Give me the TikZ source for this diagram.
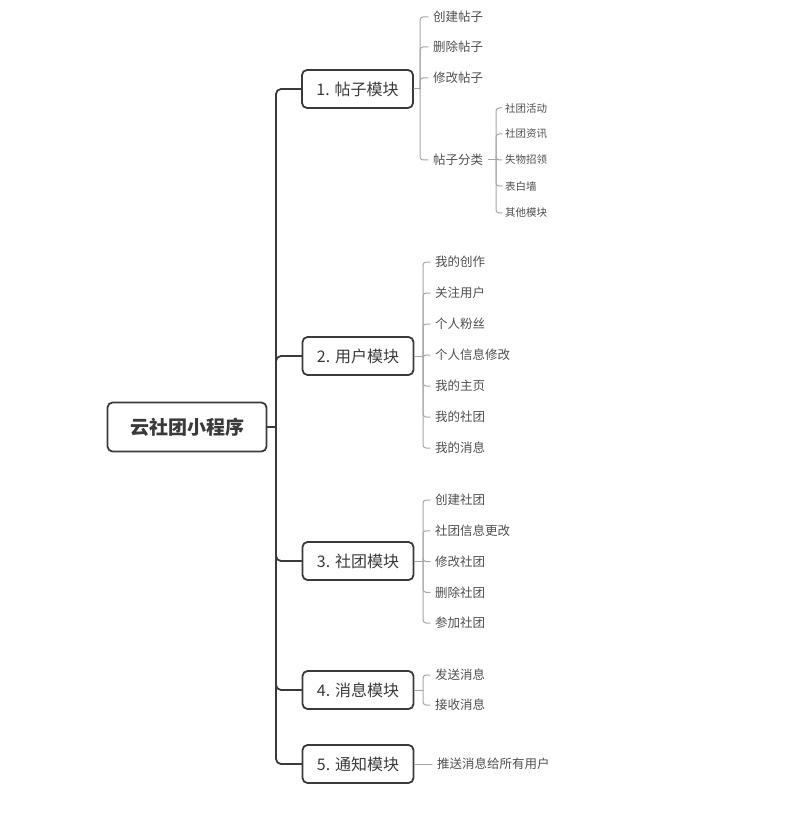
\documentclass[tikz,border=0pt]{standalone}
\usepackage{fontspec}
\setmainfont{Noto Sans CJK SC}
\usetikzlibrary{calc}
\definecolor{boxline}{HTML}{3A3A3A}
\definecolor{twiggray}{HTML}{A6A6A6}
\definecolor{leaftext}{HTML}{4F4F4F}

\begin{document}
\begin{tikzpicture}[x=1pt, y=-1pt, line cap=round, line join=round,
  rootbox/.style={draw=boxline, line width=1.8pt, rounded corners=5pt,
    minimum width=159pt, minimum height=49pt, text=boxline,
    font=\fontsize{19}{22}\selectfont\bfseries},
  modbox/.style={draw=boxline, line width=1.8pt, rounded corners=5pt,
    minimum width=111pt, minimum height=38pt, text=boxline,
    font=\fontsize{16}{19}\selectfont},
  leaf/.style={anchor=west, inner xsep=5pt, inner ysep=3pt, text=leaftext,
    font=\fontsize{12.5}{14}\selectfont},
  subleaf/.style={leaf, inner xsep=3pt, font=\fontsize{10.5}{12}\selectfont},
  trunk/.style={draw=boxline, line width=1.8pt, rounded corners=5pt},
  twig/.style={draw=twiggray, line width=1pt, rounded corners=3pt}]

  \useasboundingbox (0,0) rectangle (810,834);

  % --- root and the five modules ---
  \node[rootbox] (root) at (187,427) {云社团小程序};
  \node[modbox] (m1) at (357.5,89)  {1. 帖子模块};
  \node[modbox] (m2) at (358,356)   {2. 用户模块};
  \node[modbox] (m3) at (358,561)   {3. 社团模块};
  \node[modbox] (m4) at (358,690)   {4. 消息模块};
  \node[modbox] (m5) at (358,764)   {5. 通知模块};

  \coordinate (trunk) at (276,427);
  \draw[trunk] (root.east) -- (trunk);
  \foreach \m in {m1,m2,m3,m4,m5}
    \draw[trunk] (trunk) |- (\m.west);

  % --- 1. posts ---
  \coordinate (s1) at (420,89);
  \draw[twig] (m1.east) -- (s1);
  \foreach \y/\txt [count=\i] in {17/创建帖子, 47/删除帖子, 78/修改帖子, 160/帖子分类} {
    \node[leaf] (m1-\i) at (428,\y) {\txt};
    \draw[twig] (s1) |- (m1-\i.west);
  }
  % post categories
  \coordinate (q1) at (496,160);
  \draw[twig] (m1-4.east) -- (q1);
  \foreach \y/\txt [count=\i] in {108/社团活动, 134/社团资讯, 160/失物招领, 186/表白墙, 213/其他模块} {
    \node[subleaf] (q1-\i) at (502,\y) {\txt};
    \draw[twig] (q1) |- (q1-\i.west);
  }

  % --- 2. users ---
  \coordinate (s2) at (423,356);
  \draw[twig] (m2.east) -- (s2);
  \foreach \txt [count=\i] in {我的创作, 关注用户, 个人粉丝, 个人信息修改, 我的主页, 我的社团, 我的消息} {
    \node[leaf] (m2-\i) at (430,{262+31*(\i-1)}) {\txt};
    \draw[twig] (s2) |- (m2-\i.west);
  }

  % --- 3. clubs ---
  \coordinate (s3) at (423,561);
  \draw[twig] (m3.east) -- (s3);
  \foreach \txt [count=\i] in {创建社团, 社团信息更改, 修改社团, 删除社团, 参加社团} {
    \node[leaf] (m3-\i) at (430,{500+30.75*(\i-1)}) {\txt};
    \draw[twig] (s3) |- (m3-\i.west);
  }

  % --- 4. messages ---
  \coordinate (s4) at (423,690);
  \draw[twig] (m4.east) -- (s4);
  \foreach \y/\txt [count=\i] in {675/发送消息, 705/接收消息} {
    \node[leaf] (m4-\i) at (430,\y) {\txt};
    \draw[twig] (s4) |- (m4-\i.west);
  }

  % --- 5. notices ---
  \node[leaf] (m5-1) at (432,764) {推送消息给所有用户};
  \draw[twig] (m5.east) -- (m5-1.west);
\end{tikzpicture}
\end{document}
